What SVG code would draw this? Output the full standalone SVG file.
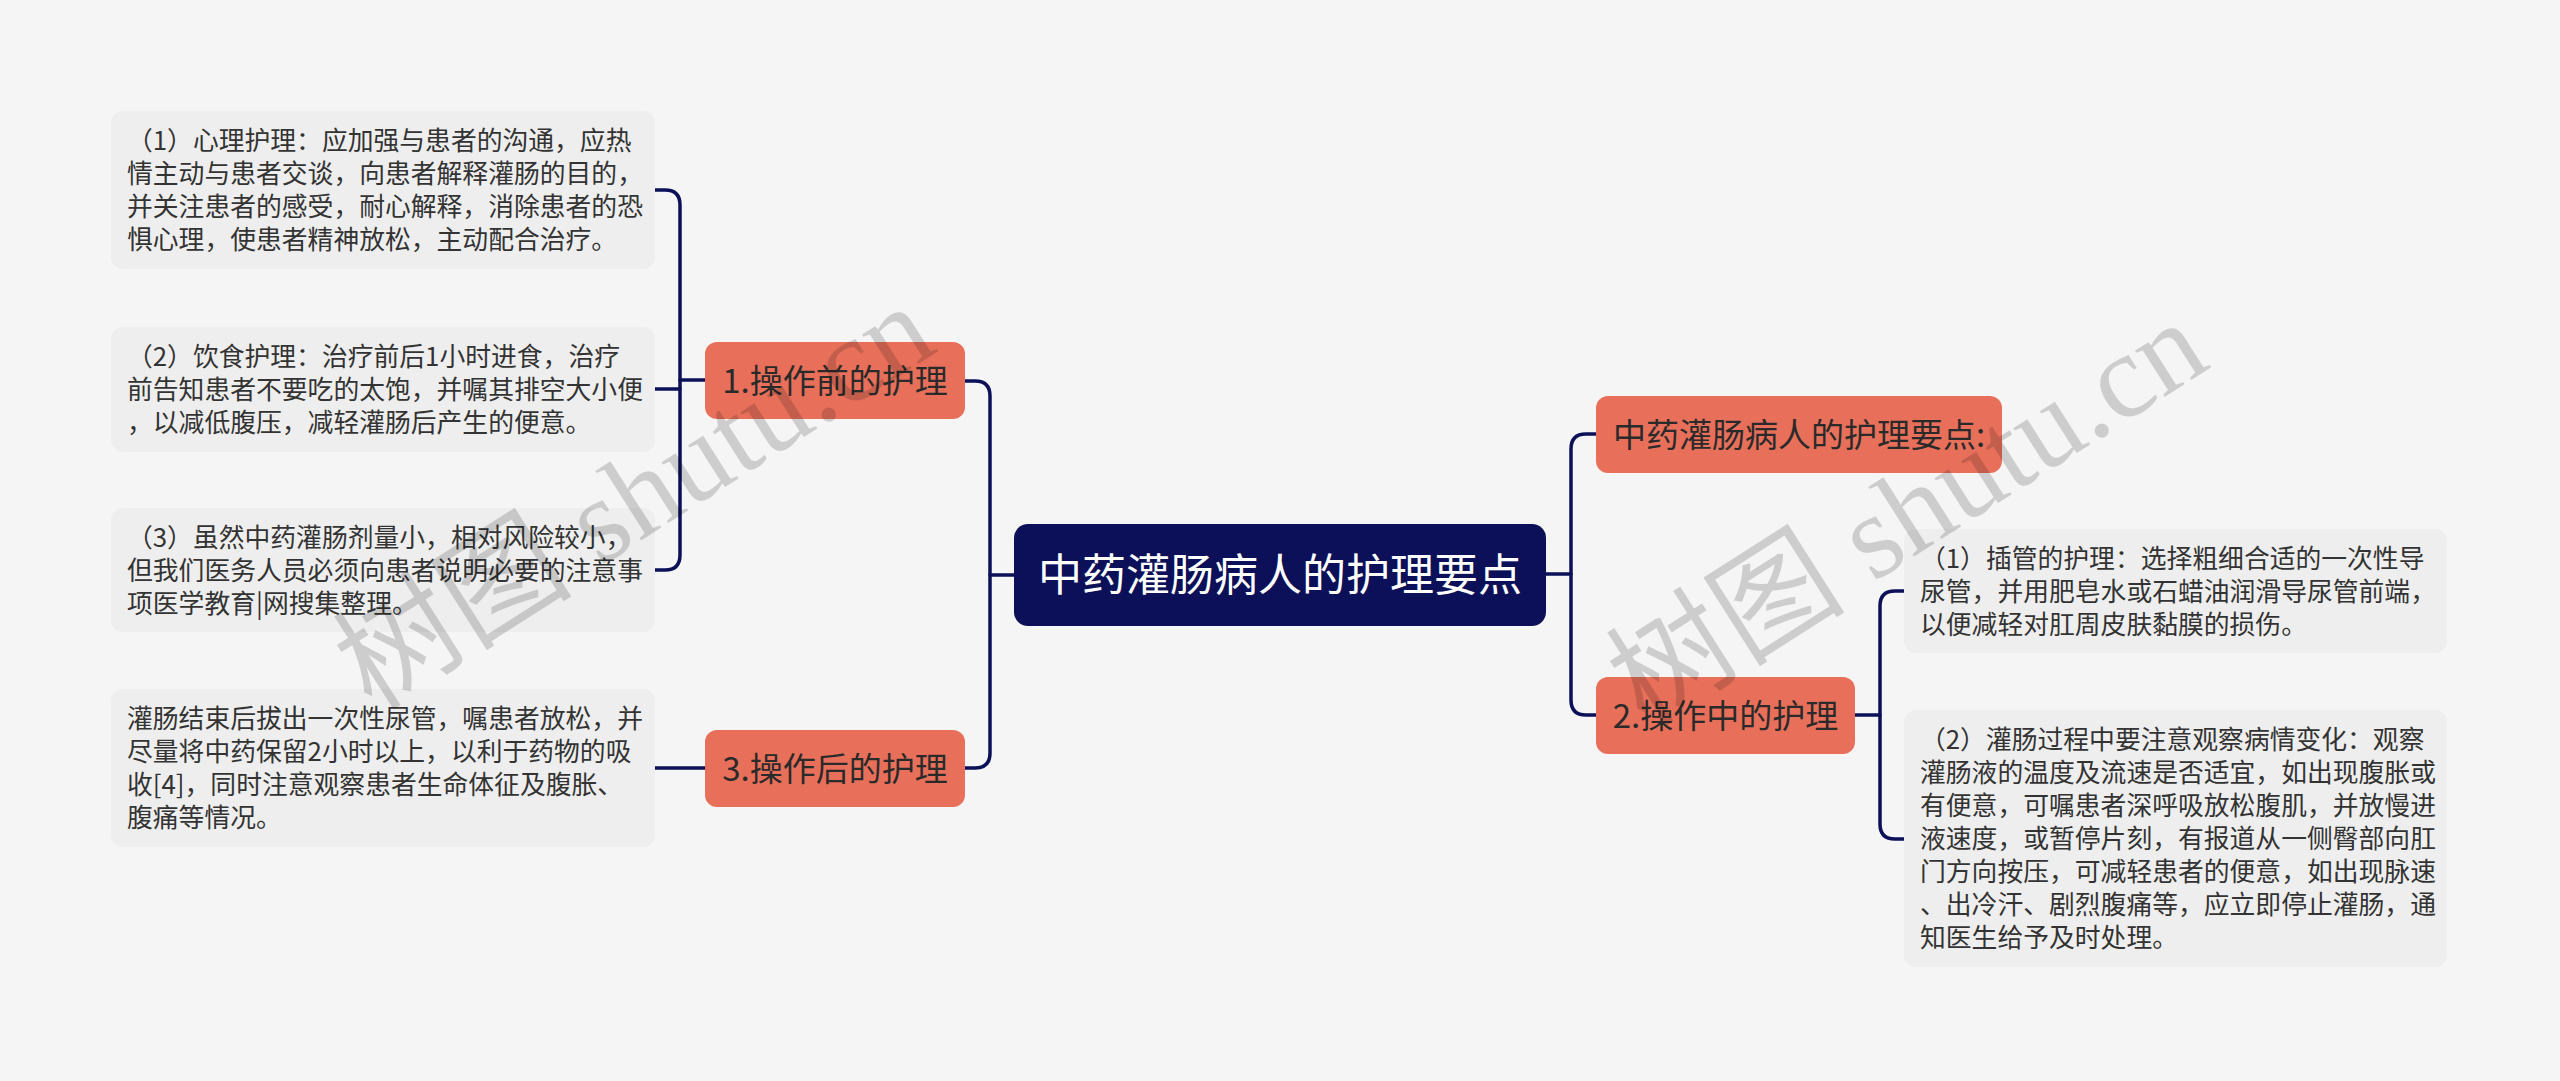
<svg xmlns="http://www.w3.org/2000/svg" width="2560" height="1081" viewBox="0 0 2560 1081">
<style>
.bg{fill:#f5f5f5}
.leaf rect{fill:#eeeeee}
.leaf text{font-family:"Noto Sans CJK SC","Noto Sans",sans-serif;font-size:25.8px;fill:#333333}
.l1 rect{fill:#e8705a}
.l1 text{font-family:"Noto Sans CJK SC","Noto Sans",sans-serif;font-size:33px;fill:#2a2a2a;text-anchor:middle}
.root rect{fill:#0b1058}
.root text{font-family:"Noto Sans CJK SC","Noto Sans",sans-serif;font-size:44px;fill:#ffffff;text-anchor:middle}
.conn path{fill:none;stroke:#0b1058;stroke-width:3.5;stroke-linecap:round}
.wm{font-family:"Liberation Serif","Noto Sans CJK SC",serif;font-size:120px;fill:#000000;fill-opacity:0.16}
</style>
<rect class="bg" x="0" y="0" width="2560" height="1081"/>

<g id="connectors" class="conn">
  <path d="M1014,575 H990"/>
  <path d="M965,381 H975 Q990,381 990,396 V753 Q990,768 975,768 H965"/>
  <path d="M705,380 H680"/>
  <path d="M655,190 H665 Q680,190 680,205 V555 Q680,570 665,570 H655"/>
  <path d="M655,389 H680"/>
  <path d="M705,768 H655"/>
  <path d="M1546,574 H1571"/>
  <path d="M1596,434 H1586 Q1571,434 1571,449 V700 Q1571,715 1586,715 H1596"/>
  <path d="M1855,715 H1880"/>
  <path d="M1904,591 H1895 Q1880,591 1880,606 V824 Q1880,839 1895,839 H1904"/>
</g>

<g id="root" class="root">
  <rect x="1014" y="524" width="532" height="102" rx="14"/>
  <text x="1280" y="591">中药灌肠病人的护理要点</text>
</g>

<g id="n1" class="l1">
  <rect x="705" y="342" width="260" height="77" rx="12"/>
  <text x="835" y="393">1.操作前的护理</text>
</g>
<g id="n3" class="l1">
  <rect x="705" y="730" width="260" height="77" rx="12"/>
  <text x="835" y="781">3.操作后的护理</text>
</g>
<g id="nr" class="l1">
  <rect x="1596" y="396" width="406" height="77" rx="12"/>
  <text x="1799" y="447">中药灌肠病人的护理要点:</text>
</g>
<g id="n2" class="l1">
  <rect x="1596" y="677" width="259" height="77" rx="12"/>
  <text x="1725.5" y="728">2.操作中的护理</text>
</g>

<g id="leafA" class="leaf">
  <rect x="111" y="111" width="544" height="158" rx="12"/>
  <text x="127" y="149.5">（1）心理护理：应加强与患者的沟通，应热</text>
  <text x="127" y="182.5">情主动与患者交谈，向患者解释灌肠的目的，</text>
  <text x="127" y="215.5">并关注患者的感受，耐心解释，消除患者的恐</text>
  <text x="127" y="248.5">惧心理，使患者精神放松，主动配合治疗。</text>
</g>
<g id="leafB" class="leaf">
  <rect x="111" y="327" width="544" height="125" rx="12"/>
  <text x="127" y="365.5">（2）饮食护理：治疗前后1小时进食，治疗</text>
  <text x="127" y="398.5">前告知患者不要吃的太饱，并嘱其排空大小便</text>
  <text x="127" y="431.5">，以减低腹压，减轻灌肠后产生的便意。</text>
</g>
<g id="leafC" class="leaf">
  <rect x="111" y="508" width="544" height="124" rx="12"/>
  <text x="127" y="546.5">（3）虽然中药灌肠剂量小，相对风险较小，</text>
  <text x="127" y="579.5">但我们医务人员必须向患者说明必要的注意事</text>
  <text x="127" y="612.5">项医学教育|网搜集整理。</text>
</g>
<g id="leafD" class="leaf">
  <rect x="111" y="689" width="544" height="158" rx="12"/>
  <text x="127" y="727.5">灌肠结束后拔出一次性尿管，嘱患者放松，并</text>
  <text x="127" y="760.5">尽量将中药保留2小时以上，以利于药物的吸</text>
  <text x="127" y="793.5">收[4]，同时注意观察患者生命体征及腹胀、</text>
  <text x="127" y="826.5">腹痛等情况。</text>
</g>
<g id="leafE" class="leaf">
  <rect x="1904" y="529" width="543" height="124" rx="12"/>
  <text x="1920" y="567.5">（1）插管的护理：选择粗细合适的一次性导</text>
  <text x="1920" y="600.5">尿管，并用肥皂水或石蜡油润滑导尿管前端，</text>
  <text x="1920" y="633.5">以便减轻对肛周皮肤黏膜的损伤。</text>
</g>
<g id="leafF" class="leaf">
  <rect x="1904" y="710" width="543" height="257" rx="12"/>
  <text x="1920" y="748.5">（2）灌肠过程中要注意观察病情变化：观察</text>
  <text x="1920" y="781.5">灌肠液的温度及流速是否适宜，如出现腹胀或</text>
  <text x="1920" y="814.5">有便意，可嘱患者深呼吸放松腹肌，并放慢进</text>
  <text x="1920" y="847.5">液速度，或暂停片刻，有报道从一侧臀部向肛</text>
  <text x="1920" y="880.5">门方向按压，可减轻患者的便意，如出现脉速</text>
  <text x="1920" y="913.5">、出冷汗、剧烈腹痛等，应立即停止灌肠，通</text>
  <text x="1920" y="946.5">知医生给予及时处理。</text>
</g>

<g id="watermarks">
  <text class="wm" transform="translate(372,712) rotate(-32.5)">树图 shutu.cn</text>
  <text class="wm" transform="translate(1645,728) rotate(-32.5)">树图 shutu.cn</text>
</g>
</svg>
